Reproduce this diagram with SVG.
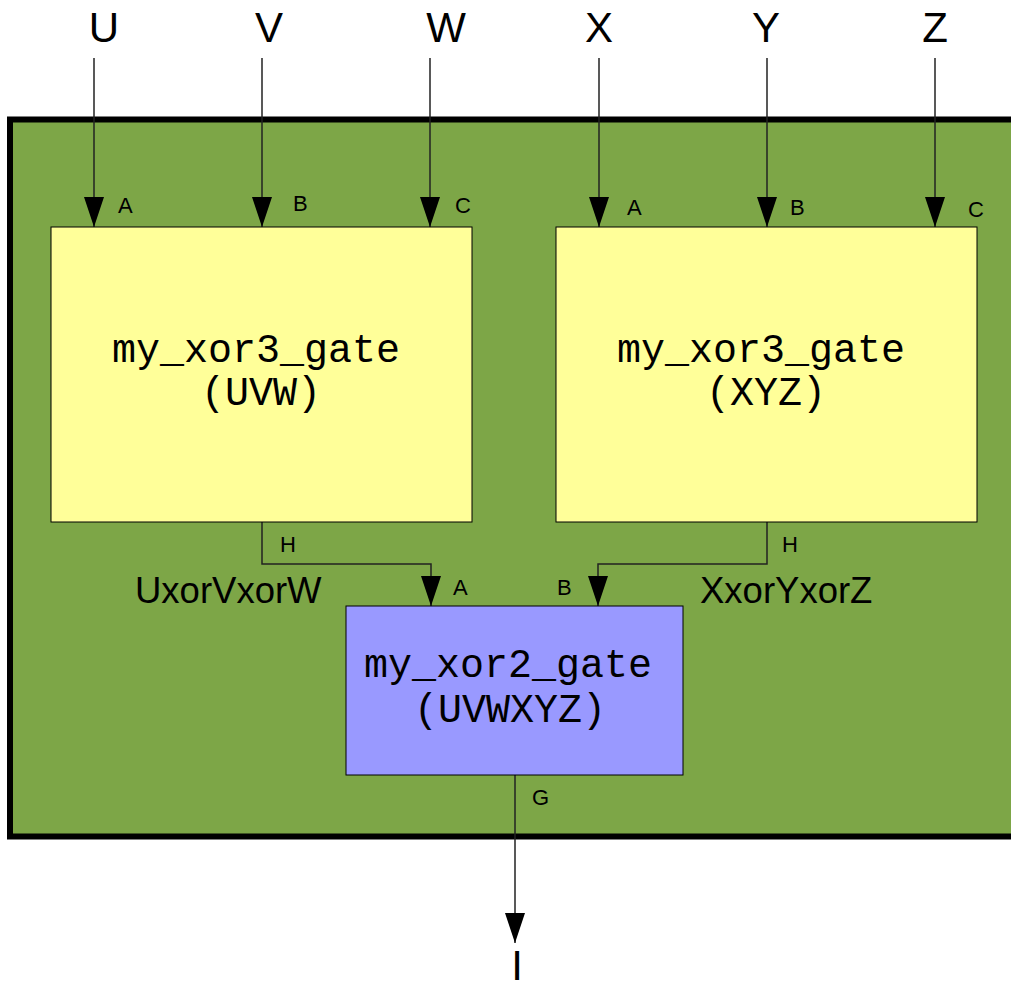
<svg xmlns="http://www.w3.org/2000/svg" width="1011" height="990" viewBox="0 0 1011 990">
<defs>
<marker id="arr" markerUnits="userSpaceOnUse" markerWidth="30" markerHeight="20" refX="30" refY="10" orient="auto" viewBox="0 0 30 20">
<path d="M0,0 L30,10 L0,20 Z" fill="#000"/>
</marker>
<style>
.sig{font-family:"Liberation Sans",Arial,sans-serif;font-size:42px;fill:#000;text-anchor:middle}
.port{font-family:"Liberation Sans",Arial,sans-serif;font-size:22px;fill:#000}
.net{font-family:"Liberation Sans",Arial,sans-serif;font-size:36.5px;fill:#000}
.mono{font-family:"Liberation Mono","Courier New",monospace;font-size:40px;fill:#000;text-anchor:middle}
.wire{fill:none;stroke:#222;stroke-width:1.5}
.xor3{fill:#ffff99;stroke:#000;stroke-width:1}
.xor2{fill:#9999ff;stroke:#000;stroke-width:1}
</style>
</defs>
<rect width="1011" height="990" fill="#fff"/>
<g id="top">
<rect x="10" y="119.5" width="1030" height="717" fill="#7da647" stroke="#000" stroke-width="6"/>
</g>
<g id="inputs">
<text class="sig" x="104" y="42">U</text>
<text class="sig" x="269" y="42">V</text>
<text class="sig" x="446" y="42">W</text>
<text class="sig" x="599" y="42">X</text>
<text class="sig" x="766" y="42">Y</text>
<text class="sig" x="935" y="42">Z</text>
</g>
<g id="connectors">
<path class="wire" d="M94,58 V227" marker-end="url(#arr)"/>
<path class="wire" d="M262,58 V227" marker-end="url(#arr)"/>
<path class="wire" d="M430,58 V227" marker-end="url(#arr)"/>
<path class="wire" d="M599,58 V227" marker-end="url(#arr)"/>
<path class="wire" d="M767,58 V227" marker-end="url(#arr)"/>
<path class="wire" d="M935,58 V227" marker-end="url(#arr)"/>
<path class="wire" d="M262,522 V564 H431 V606" marker-end="url(#arr)"/>
<path class="wire" d="M767,522 V564 H598 V606" marker-end="url(#arr)"/>
<path class="wire" d="M515,775 V943" marker-end="url(#arr)"/>
</g>
<g id="UVW">
<rect class="xor3" x="51" y="227" width="421" height="295"/>
<text class="mono" x="256" y="362">my_xor3_gate</text>
<text class="mono" x="261" y="405">(UVW)</text>
<text class="port" x="118" y="213">A</text>
<text class="port" x="293" y="211">B</text>
<text class="port" x="455" y="213">C</text>
<text class="port" x="280" y="552">H</text>
</g>
<g id="XYZ">
<rect class="xor3" x="556" y="227" width="421" height="295"/>
<text class="mono" x="761" y="362">my_xor3_gate</text>
<text class="mono" x="766" y="405">(XYZ)</text>
<text class="port" x="627" y="215">A</text>
<text class="port" x="790" y="215">B</text>
<text class="port" x="968" y="217">C</text>
<text class="port" x="782" y="552">H</text>
</g>
<g id="UVWXYZ">
<rect class="xor2" x="346" y="606" width="337" height="169"/>
<text class="mono" x="508" y="677">my_xor2_gate</text>
<text class="mono" x="510" y="722">(UVWXYZ)</text>
<text class="port" x="453" y="595">A</text>
<text class="port" x="557" y="595">B</text>
<text class="port" x="532" y="805">G</text>
</g>
<g id="nets">
<text class="net" x="135" y="603">UxorVxorW</text>
<text class="net" x="700" y="603">XxorYxorZ</text>
</g>
<g id="output">
<text class="sig" x="517" y="980">I</text>
</g>
</svg>
